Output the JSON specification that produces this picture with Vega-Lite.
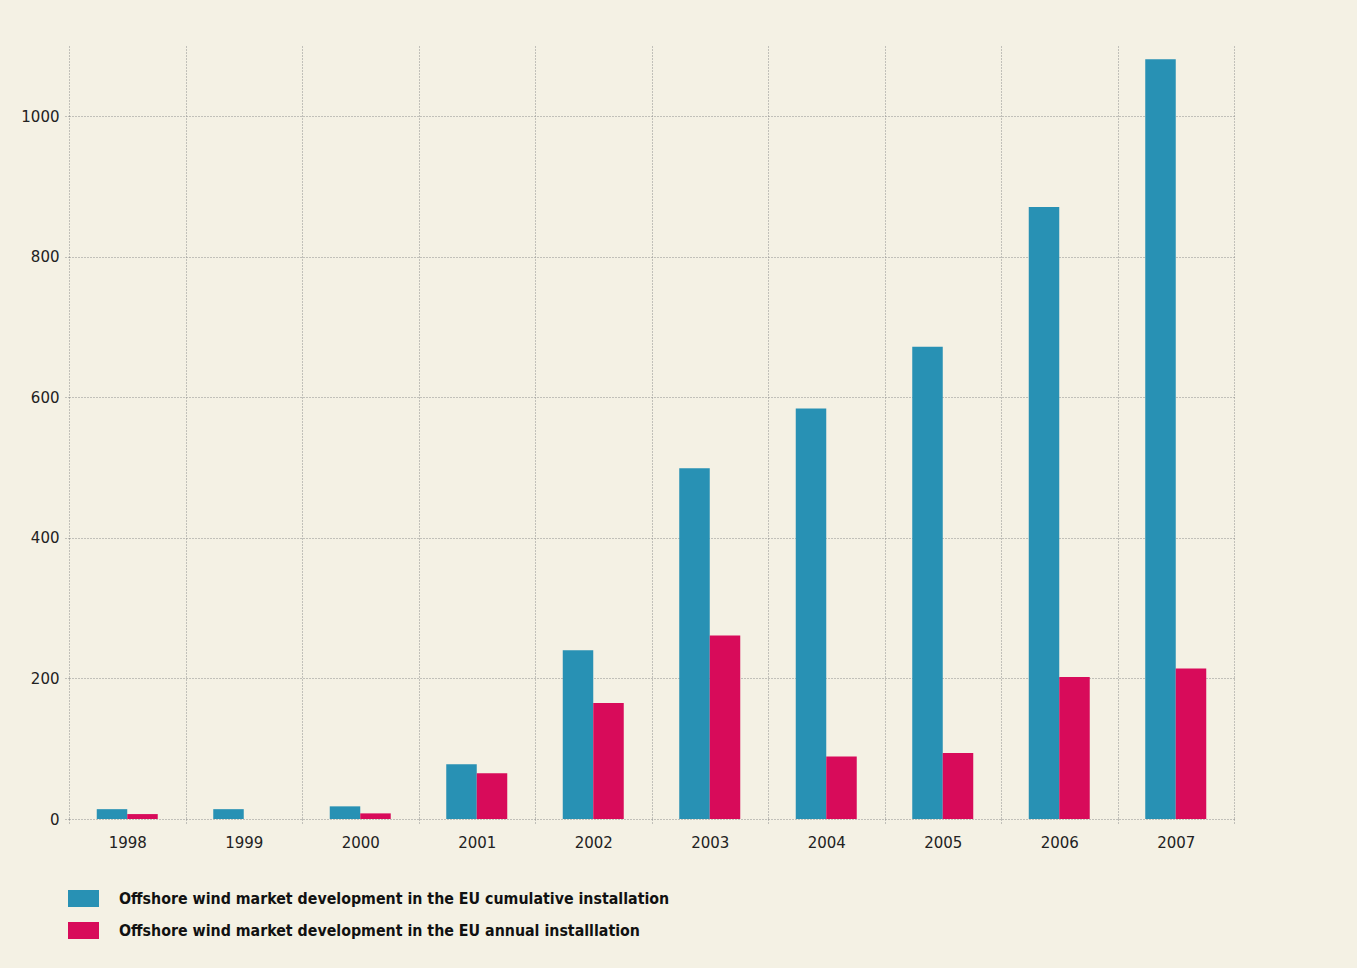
{
  "$schema": "https://vega.github.io/schema/vega-lite/v6.json",
  "width": 1165,
  "height": 773,
  "autosize": {"type": "none"},
  "padding": {"left": 69, "top": 46, "right": 123, "bottom": 149},
  "background": "#f4f1e4",
  "config": {
    "view": {"stroke": null},
    "axis": {"labelFont": "DejaVu Sans", "labelFontSize": 15, "labelColor": "#222222"}
  },
  "data": {
    "values": [
      {"year": "1998", "series": "Offshore wind market development in the EU cumulative installation", "value": 14},
      {"year": "1998", "series": "Offshore wind market development in the EU annual installlation", "value": 7},
      {"year": "1999", "series": "Offshore wind market development in the EU cumulative installation", "value": 14},
      {"year": "1999", "series": "Offshore wind market development in the EU annual installlation", "value": 0},
      {"year": "2000", "series": "Offshore wind market development in the EU cumulative installation", "value": 18},
      {"year": "2000", "series": "Offshore wind market development in the EU annual installlation", "value": 8},
      {"year": "2001", "series": "Offshore wind market development in the EU cumulative installation", "value": 78},
      {"year": "2001", "series": "Offshore wind market development in the EU annual installlation", "value": 65},
      {"year": "2002", "series": "Offshore wind market development in the EU cumulative installation", "value": 240},
      {"year": "2002", "series": "Offshore wind market development in the EU annual installlation", "value": 165},
      {"year": "2003", "series": "Offshore wind market development in the EU cumulative installation", "value": 499},
      {"year": "2003", "series": "Offshore wind market development in the EU annual installlation", "value": 261},
      {"year": "2004", "series": "Offshore wind market development in the EU cumulative installation", "value": 584},
      {"year": "2004", "series": "Offshore wind market development in the EU annual installlation", "value": 89},
      {"year": "2005", "series": "Offshore wind market development in the EU cumulative installation", "value": 672},
      {"year": "2005", "series": "Offshore wind market development in the EU annual installlation", "value": 94},
      {"year": "2006", "series": "Offshore wind market development in the EU cumulative installation", "value": 871},
      {"year": "2006", "series": "Offshore wind market development in the EU annual installlation", "value": 202},
      {"year": "2007", "series": "Offshore wind market development in the EU cumulative installation", "value": 1081},
      {"year": "2007", "series": "Offshore wind market development in the EU annual installlation", "value": 214}
    ]
  },
  "mark": {"type": "bar"},
  "encoding": {
    "x": {
      "field": "year",
      "type": "nominal",
      "scale": {"paddingInner": 0, "paddingOuter": 0},
      "axis": {
        "title": null,
        "labelAngle": 0,
        "tickBand": "extent",
        "domain": false,
        "grid": true,
        "gridColor": "#8f8f8f",
        "gridDash": [1, 2],
        "gridWidth": 1,
        "ticks": true,
        "tickSize": 6,
        "tickColor": "#8f8f8f",
        "tickDash": [1, 2],
        "labelPadding": 10
      }
    },
    "xOffset": {
      "field": "series",
      "type": "nominal",
      "scale": {"paddingInner": 0, "paddingOuter": 0.91},
      "sort": [
        "Offshore wind market development in the EU cumulative installation",
        "Offshore wind market development in the EU annual installlation"
      ]
    },
    "y": {
      "field": "value",
      "type": "quantitative",
      "scale": {"domain": [0, 1100], "nice": false},
      "axis": {
        "title": null,
        "values": [0, 200, 400, 600, 800, 1000],
        "format": "d",
        "domain": false,
        "grid": true,
        "gridColor": "#8f8f8f",
        "gridDash": [1, 2],
        "gridWidth": 1,
        "tickSize": 4,
        "tickColor": "#8f8f8f",
        "tickDash": [1, 2],
        "labelPadding": 6
      }
    },
    "color": {
      "field": "series",
      "type": "nominal",
      "scale": {
        "domain": [
          "Offshore wind market development in the EU cumulative installation",
          "Offshore wind market development in the EU annual installlation"
        ],
        "range": ["#2891b4", "#d80b5a"]
      },
      "legend": {
        "title": null,
        "orient": "none",
        "legendX": -1,
        "legendY": 837,
        "direction": "vertical",
        "padding": 0,
        "symbolType": "M-1,-0.548H1V0.548H-1Z",
        "symbolSize": 961,
        "symbolStrokeWidth": 0,
        "symbolOpacity": 1,
        "rowPadding": 8,
        "labelOffset": 20,
        "labelFont": "DejaVu Sans Condensed",
        "labelFontWeight": "bold",
        "labelFontSize": 15.8,
        "labelColor": "#111111",
        "labelLimit": 1000
      }
    }
  }
}
